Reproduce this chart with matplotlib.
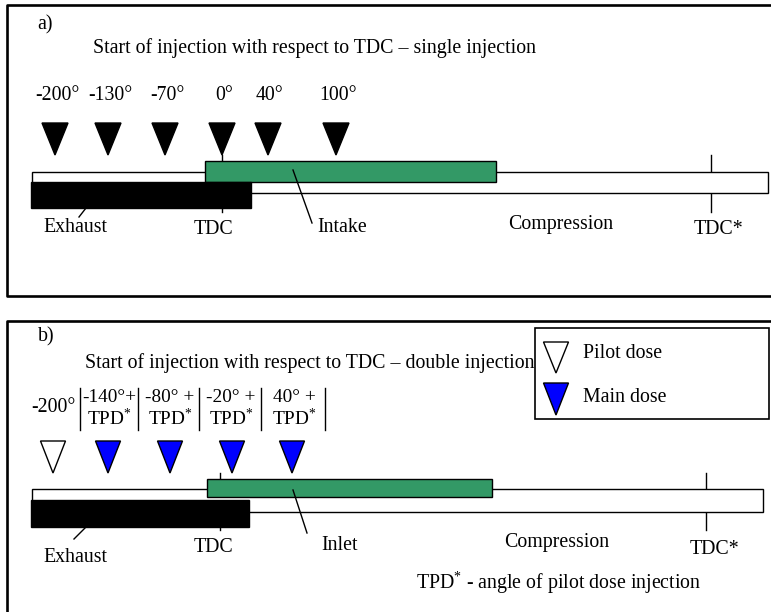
import numpy as np
import matplotlib
matplotlib.use("Agg")
import matplotlib.pyplot as plt
from matplotlib.patches import Rectangle, Polygon

plt.rcParams['font.family'] = ['Liberation Serif', 'DejaVu Serif']
plt.rcParams['mathtext.fontset'] = 'custom'
plt.rcParams['mathtext.rm'] = 'Liberation Serif'
plt.rcParams['mathtext.it'] = 'Liberation Serif:italic'

# ---- data ----
angles_single = [-200, -130, -70, 0, 40, 100]          # deg wrt TDC, single injection
pilot_angle = -200                                     # deg, pilot dose
main_offsets = [-140, -80, -20, 40]                    # deg (+ TPD*), main dose
phases_a = ["Exhaust", "TDC", "Intake", "Compression", "TDC*"]
phases_b = ["Exhaust", "TDC", "Inlet", "Compression", "TDC*"]

# ---- schematic layout (pixels) ----
W, H = 771, 612
marker_x_a = [55, 108, 165, 222, 268, 336]
marker_x_b = [53, 108, 170, 232, 292]
GREEN = "#339966"
BLUE = "#0000ff"
FS = 14.3


def triangle(ax, xc, ytop, color, w=26, h=32):
    ax.add_patch(Polygon([[xc - w / 2, ytop], [xc + w / 2, ytop], [xc, ytop + h]],
                         closed=True, facecolor=color, edgecolor="black", lw=1.0, zorder=4))


def cycle_bars(ax, bar, green, black, tdc_x, tdcs_x, ticks):
    # tick marks for TDC and TDC*
    ax.plot([tdc_x, tdc_x], ticks, color="black", lw=1.0, zorder=1)
    ax.plot([tdcs_x, tdcs_x], ticks, color="black", lw=1.0, zorder=1)
    ax.add_patch(Rectangle((bar[0], bar[1]), bar[2] - bar[0], bar[3] - bar[1],
                           facecolor="white", edgecolor="black", lw=1.0, zorder=2))
    ax.add_patch(Rectangle((green[0], green[1]), green[2] - green[0], green[3] - green[1],
                           facecolor=GREEN, edgecolor="black", lw=1.0, zorder=3))
    ax.add_patch(Rectangle((black[0], black[1]), black[2] - black[0], black[3] - black[1],
                           facecolor="black", edgecolor="black", lw=1.0, zorder=3))


fig = plt.figure(figsize=(W / 100, H / 100), dpi=100)
ax = fig.add_axes([0, 0, 1, 1])
ax.set_xlim(0, W)
ax.set_ylim(H, 0)
ax.axis("off")

# ---------------- panel a ----------------
ax.plot([W, 7, 7, W], [5, 5, 296, 296], color="black", lw=1.9, solid_capstyle="projecting")
ax.text(45, 25, "a)", fontsize=FS, ha="center", va="center")
ax.text(93, 48, "Start of injection with respect to TDC \u2013 single injection",
        fontsize=FS, ha="left", va="center")
for a, x in zip(angles_single, marker_x_a):
    ax.text(x + 2, 95, f"{a}\u00b0", fontsize=FS, ha="center", va="center")
    triangle(ax, x, 123, "black")

cycle_bars(ax, bar=(32, 172, 768, 193), green=(205, 161, 496, 182),
           black=(31, 182, 251, 208), tdc_x=222, tdcs_x=711, ticks=(155, 212))

ax.text(75, 228, phases_a[0], fontsize=FS, ha="center", va="center")
ax.plot([79, 86], [217, 208], color="black", lw=1.0)
ax.text(214, 230, phases_a[1], fontsize=FS, ha="center", va="center")
ax.text(342, 227, phases_a[2], fontsize=FS, ha="center", va="center")
ax.plot([293, 312], [170, 223], color="black", lw=1.0, zorder=5)
ax.text(561, 225, phases_a[3], fontsize=FS, ha="center", va="center")
ax.text(719, 230, phases_a[4], fontsize=FS, ha="center", va="center")

# ---------------- panel b ----------------
ax.plot([W, 7, 7], [321, 321, H], color="black", lw=1.9, solid_capstyle="projecting")
ax.text(46, 337, "b)", fontsize=FS, ha="center", va="center")
ax.text(85, 363, "Start of injection with respect to TDC \u2013 double injection",
        fontsize=FS, ha="left", va="center")

# legend box
ax.add_patch(Rectangle((535, 328), 234, 91, facecolor="white", edgecolor="black", lw=1.2))
triangle(ax, 556, 342, "white", w=25, h=31)
triangle(ax, 556, 383, BLUE, w=25, h=32)
ax.text(583, 353, "Pilot dose", fontsize=FS, ha="left", va="center")
ax.text(583, 397, "Main dose", fontsize=FS, ha="left", va="center")

# angle labels with separators
ax.text(53, 407, f"{pilot_angle}\u00b0", fontsize=FS, ha="center", va="center")
label_x = [109, 170, 231, 294]
for off, x in zip(main_offsets, label_x):
    sep = "+" if off == -140 else " +"
    ax.text(x, 398, f"{off}\u00b0{sep}", fontsize=FS - 0.4, ha="center", va="center")
    ax.text(x, 419, r"TPD$^{*}$", fontsize=FS - 0.4, ha="center", va="center")
for sx in [80, 138, 199, 261, 325]:
    ax.plot([sx, sx], [388, 430], color="black", lw=1.0)

triangle(ax, marker_x_b[0], 441, "white", w=25)
for x in marker_x_b[1:]:
    triangle(ax, x, 441, BLUE, w=25)

cycle_bars(ax, bar=(32, 489, 763, 512), green=(207, 479, 492, 497),
           black=(31, 500, 249, 527), tdc_x=220, tdcs_x=706, ticks=(473, 530))

ax.text(75, 558, phases_b[0], fontsize=FS, ha="center", va="center")
ax.plot([74, 86], [539, 527], color="black", lw=1.0)
ax.text(213, 548, phases_b[1], fontsize=FS, ha="center", va="center")
ax.text(340, 545, phases_b[2], fontsize=FS, ha="center", va="center")
ax.plot([293, 307], [490, 533], color="black", lw=1.0, zorder=5)
ax.text(557, 543, phases_b[3], fontsize=FS, ha="center", va="center")
ax.text(714, 550, phases_b[4], fontsize=FS, ha="center", va="center")
ax.text(416, 583, r"TPD$^{*}$ - angle of pilot dose injection", fontsize=FS,
        ha="left", va="center")

fig.savefig("out.png", dpi=100)
